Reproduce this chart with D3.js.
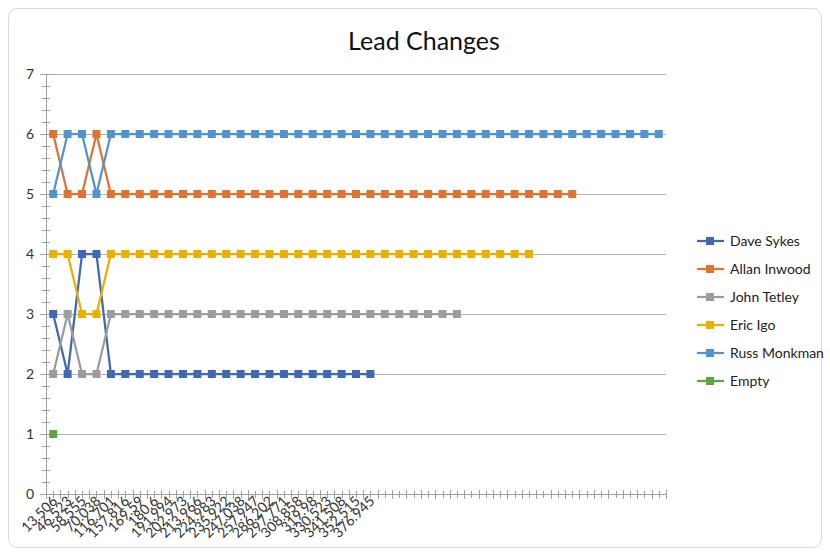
<!DOCTYPE html>
<html><head><meta charset="utf-8">
<script src="https://cdn.jsdelivr.net/npm/d3@7"></script>
<style>body{margin:0;background:#fff}svg{display:block}text{font-family:Lato,"Open Sans",sans-serif}</style>
</head><body><svg id="c" width="830" height="556"></svg>
<script>
const categoryLabels = ["13.506","46.523","58.555","70.038","116.701","157.816","169.59","180.6","191.994","202.973","213.966","224.983","235.922","247.038","257.947","286.202","297.771","308.858","319.98","330.523","341.508","352.515","376.945"];
const categoryCount = 43;
const daveSykes = [3,2,4,4,2,2,2,2,2,2,2,2,2,2,2,2,2,2,2,2,2,2,2];
const allanInwood = [6,5,5,6,5,5,5,5,5,5,5,5,5,5,5,5,5,5,5,5,5,5,5,5,5,5,5,5,5,5,5,5,5,5,5,5,5];
const johnTetley = [2,3,2,2,3,3,3,3,3,3,3,3,3,3,3,3,3,3,3,3,3,3,3,3,3,3,3,3,3];
const ericIgo = [4,4,3,3,4,4,4,4,4,4,4,4,4,4,4,4,4,4,4,4,4,4,4,4,4,4,4,4,4,4,4,4,4,4];
const russMonkman = [5,6,6,5,6,6,6,6,6,6,6,6,6,6,6,6,6,6,6,6,6,6,6,6,6,6,6,6,6,6,6,6,6,6,6,6,6,6,6,6,6,6,6];
const empty = [1];
const seriesNames = ["Dave Sykes","Allan Inwood","John Tetley","Eric Igo","Russ Monkman","Empty"];
const seriesColors = ["#4069B1","#DE7431","#9C9C9C","#E8B000","#5393CC","#62A340"];
const seriesValues = [daveSykes, allanInwood, johnTetley, ericIgo, russMonkman, empty];
const yTicks = [0,1,2,3,4,5,6,7];

const svg = d3.select("#c");
svg.append("rect").attr("x",8.5).attr("y",8.5).attr("width",813).attr("height",539)
  .attr("rx",9).attr("fill","#fff").attr("stroke","#d9d9d9");

const L=46, R=666, T=74, B=494;
const cats = d3.range(categoryCount);
const x = d3.scaleBand().domain(cats).range([L,R]);
const xc = i => x(i)+x.bandwidth()/2;
const y = d3.scaleLinear().domain([0,7]).range([B,T]);

svg.append("text").attr("x",424).attr("y",50).attr("text-anchor","middle")
  .attr("font-size",25).attr("fill","#111").text("Lead Changes");

// gridlines
const g = svg.append("g");
g.selectAll("line.grid").data(yTicks.slice(1)).join("line")
  .attr("x1",L).attr("x2",R).attr("y1",d=>Math.round(y(d))+0.5).attr("y2",d=>Math.round(y(d))+0.5)
  .attr("stroke","#b3b3b3");

// y axis
g.append("line").attr("x1",L+0.5).attr("x2",L+0.5).attr("y1",T).attr("y2",B).attr("stroke","#a0a0a0");
const minor = d3.range(0,35).map(i=>i*0.2).filter((d,i)=>i%5!==0);
g.selectAll("line.ymin").data(minor).join("line")
  .attr("x1",L-4).attr("x2",L+4).attr("y1",d=>Math.round(y(d))+0.5).attr("y2",d=>Math.round(y(d))+0.5).attr("stroke","#a0a0a0");
g.selectAll("line.ymaj").data(yTicks).join("line")
  .attr("x1",L-6).attr("x2",L+6).attr("y1",d=>Math.round(y(d))+0.5).attr("y2",d=>Math.round(y(d))+0.5).attr("stroke","#a0a0a0");
g.selectAll("text.yl").data(yTicks).join("text")
  .attr("x",34).attr("y",d=>y(d)+5).attr("text-anchor","end").attr("font-size",14).attr("fill","#333").text(d=>d);

// x axis
g.append("line").attr("x1",L).attr("x2",R).attr("y1",B+0.5).attr("y2",B+0.5).attr("stroke","#a0a0a0");
const bounds = d3.range(categoryCount+1).map(i=>L+i*x.bandwidth());
g.selectAll("line.xmaj").data(bounds).join("line")
  .attr("x1",d=>Math.round(d)+0.5).attr("x2",d=>Math.round(d)+0.5).attr("y1",B-4).attr("y2",B+5).attr("stroke","#a0a0a0");
g.selectAll("line.xmin").data(cats).join("line")
  .attr("x1",d=>Math.round(xc(d))+0.5).attr("x2",d=>Math.round(xc(d))+0.5).attr("y1",B-3).attr("y2",B+4).attr("stroke","#a0a0a0");
g.selectAll("text.xl").data(categoryLabels).join("text")
  .attr("transform",(d,i)=>`translate(${xc(i)+5},${B+8}) rotate(-45)`)
  .attr("text-anchor","end").attr("font-size",14).attr("fill","#333").text(d=>d);

// series
const line = d3.line().x((d,i)=>xc(i)).y(d=>y(d));
seriesValues.forEach((vals,si)=>{
  const sg = svg.append("g");
  sg.append("path").attr("d",line(vals)).attr("fill","none").attr("stroke",seriesColors[si]).attr("stroke-width",2.25);
  sg.selectAll("rect").data(vals).join("rect")
    .attr("x",(d,i)=>xc(i)-4).attr("y",d=>y(d)-4).attr("width",8).attr("height",8).attr("fill",seriesColors[si]);
});

// legend
const lg = svg.append("g");
seriesNames.forEach((n,i)=>{
  const yy = 241 + i*28;
  lg.append("line").attr("x1",697).attr("x2",724).attr("y1",yy).attr("y2",yy).attr("stroke",seriesColors[i]).attr("stroke-width",2.25);
  lg.append("rect").attr("x",706).attr("y",yy-4).attr("width",8).attr("height",8).attr("fill",seriesColors[i]);
  lg.append("text").attr("x",730).attr("y",yy+5).attr("font-size",14).attr("fill","#222").text(n);
});
</script></body></html>
